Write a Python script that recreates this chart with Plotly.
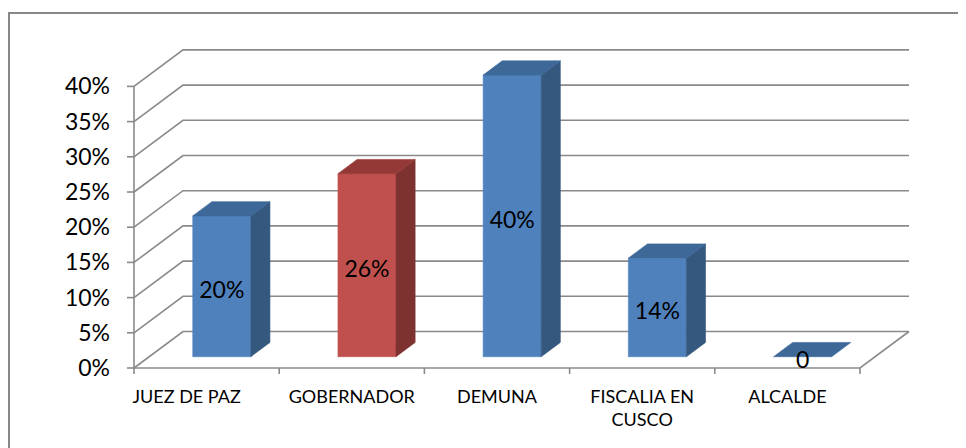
import plotly.graph_objects as go

# ---------------- data ----------------
categories = ["JUEZ DE PAZ", "GOBERNADOR", "DEMUNA", "FISCALIA EN<br>CUSCO", "ALCALDE"]
values = [20, 26, 40, 14, 0]
value_labels = ["20%", "26%", "40%", "14%", "0"]
y_ticks = [0, 5, 10, 15, 20, 25, 30, 35, 40]
y_tick_labels = ["0%", "5%", "10%", "15%", "20%", "25%", "30%", "35%", "40%"]

# ---------------- style ----------------
palette = {
    "blue": {"front": "#4F81BD", "top": "#3D6898", "side": "#35587F"},
    "red": {"front": "#C0504D", "top": "#953937", "side": "#7E3230"},
}
bar_color_keys = ["blue", "red", "blue", "blue", "blue"]
GRID = "#8A8A8A"
FONT = "Lato"

W, H = 966, 448
OFF = 8  # the page body margin shifts the figure by this much
FW, FH = W - OFF, H - OFF

# screen-pixel geometry of the 3-D frame (converted to figure pixels below)
AX_X = 134.0 - OFF     # x of front-left axis
CAT_PX = 145.2         # width of one category
ZERO_Y = 368.0 - OFF   # y of front 0%
PCT_PX = 7.04          # pixels per 1%
DEPTH_DX, DEPTH_DY = 49.0, 36.5
BAR_FRONT, BAR_BACK, BAR_W = 0.31, 0.70, 0.40
LABEL_DROP_PX = 6      # data labels sit slightly below the face centre
FIRST_LABEL_SHIFT_PX = -20  # first category label is drawn left of centre

PL, PR, PT, PB = 124 - OFF, 918 - OFF, 40 - OFF, 377 - OFF   # plot-area box
x_range = [(PL - AX_X) / CAT_PX, (PR - AX_X) / CAT_PX]
y_range = [(ZERO_Y - PB) / PCT_PX, (ZERO_Y - PT) / PCT_PX]
ddx = DEPTH_DX / CAT_PX
ddy = DEPTH_DY / PCT_PX
n = len(categories)
ymax = y_ticks[-1]

fig = go.Figure()

# ---------------- walls / gridlines ----------------
gx, gy = [], []
for v in y_ticks:
    gx += [0, ddx, n + ddx, None]
    gy += [v, v + ddy, v + ddy, None]
# floor right edge and front axis
gx += [n + ddx, n, 0, None]
gy += [ddy, 0, 0, None]
# vertical axis
gx += [0, 0, None]
gy += [0, ymax, None]
# y tick marks
tl = 7 / CAT_PX
for v in y_ticks:
    gx += [-tl, 0, None]
    gy += [v, v, None]
# x tick marks at category boundaries
xl_ = 6 / PCT_PX
for i in range(n + 1):
    gx += [i, i, None]
    gy += [0, -xl_, None]
fig.add_trace(go.Scatter(x=gx, y=gy, mode="lines",
                         line=dict(color=GRID, width=1.6),
                         hoverinfo="skip", showlegend=False))

# ---------------- 3-D bars ----------------
fx, fy = BAR_FRONT * ddx, BAR_FRONT * ddy
bx, by = BAR_BACK * ddx, BAR_BACK * ddy
sx, sy = bx - fx, by - fy


def poly(xs, ys, color):
    fig.add_trace(go.Scatter(x=xs + [xs[0]], y=ys + [ys[0]], mode="lines",
                             fill="toself", fillcolor=color,
                             line=dict(color=color, width=0.6),
                             hoverinfo="skip", showlegend=False))


for i, v in enumerate(values):
    c = palette[bar_color_keys[i]]
    cx = i + 0.5
    x0 = cx - BAR_W / 2 + fx
    x1 = cx + BAR_W / 2 + fx
    if v > 0:
        poly([x0, x1, x1, x0], [fy, fy, fy + v, fy + v], c["front"])
        poly([x1, x1 + sx, x1 + sx, x1], [fy, fy + sy, fy + sy + v, fy + v], c["side"])
    poly([x0, x1, x1 + sx, x0 + sx], [fy + v, fy + v, fy + sy + v, fy + sy + v], c["top"])

# ---------------- data labels ----------------
drop = LABEL_DROP_PX / PCT_PX
fig.add_trace(go.Scatter(
    x=[i + 0.5 + fx for i in range(n)],
    y=[v / 2 + fy - drop for v in values],
    mode="text", text=value_labels, textposition="middle center",
    textfont=dict(family=FONT, size=23, color="#000000"),
    hoverinfo="skip", showlegend=False, cliponaxis=False))

# ---------------- chart border ----------------
pw, ph = PR - PL, PB - PT
def px_to_paper_x(p):
    return (p - OFF - PL) / pw
def px_to_paper_y(p):
    return (PB - (p - OFF)) / ph

fig.add_shape(type="rect", xref="paper", yref="paper",
              x0=px_to_paper_x(9), x1=px_to_paper_x(990),
              y0=px_to_paper_y(470), y1=px_to_paper_y(13),
              line=dict(color="#878787", width=2), fillcolor="rgba(0,0,0,0)",
              layer="below")

label_pos = [i + 0.5 for i in range(n)]
label_pos[0] += FIRST_LABEL_SHIFT_PX / CAT_PX

fig.update_layout(
    width=FW, height=FH,
    margin=dict(l=PL, r=FW - PR, t=PT, b=FH - PB, pad=0),
    paper_bgcolor="white", plot_bgcolor="white",
    font=dict(family=FONT, color="#000000"),
    xaxis=dict(range=x_range, showgrid=False, zeroline=False, showline=False,
               tickmode="array", tickvals=label_pos, ticktext=categories,
               ticks="", tickfont=dict(family=FONT, size=18, color="#000000"),
               ticklabelstandoff=7, fixedrange=True),
    yaxis=dict(range=y_range, showgrid=False, zeroline=False, showline=False,
               tickmode="array", tickvals=y_ticks, ticktext=y_tick_labels,
               ticks="", tickfont=dict(family=FONT, size=23, color="#000000"),
               ticklabelstandoff=13, fixedrange=True),
    showlegend=False,
)

fig.write_html("out.html")
